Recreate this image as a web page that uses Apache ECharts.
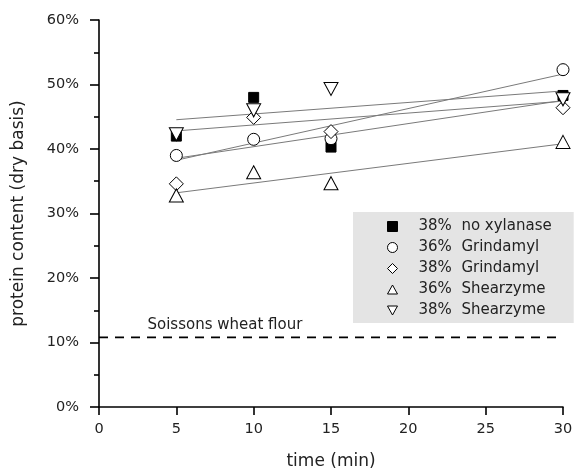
<!DOCTYPE html>
<html>
<head>
<meta charset="utf-8">
<script src="https://cdn.jsdelivr.net/npm/echarts@6/dist/echarts.min.js"></script>
<style>html,body{margin:0;padding:0;background:#fff}#c{width:576px;height:475px}</style>
</head>
<body>
<div id="c"></div>
<script>
// ---- data ----
var times = [5, 10, 15, 30];
var seriesNames = ['38%  no xylanase', '36%  Grindamyl', '38%  Grindamyl', '36%  Shearzyme', '38%  Shearzyme'];
var noXylanase38 = [42.0, 48.0, 40.3, 48.3];
var grindamyl36 = [39.0, 41.5, 41.6, 52.3];
var grindamyl38 = [34.6, 44.9, 42.7, 46.4];
var shearzyme36 = [32.8, 36.4, 34.7, 41.1];
var shearzyme38 = [42.3, 46.0, 49.3, 47.7];
var flourBaseline = 10.8;
var flourLabel = 'Soissons wheat flour';
var xTicks = [0, 5, 10, 15, 20, 25, 30];
var yTicks = [0, 10, 20, 30, 40, 50, 60];

var allValues = [noXylanase38, grindamyl36, grindamyl38, shearzyme36, shearzyme38];

// ---- styles ----
var FONT = 'DejaVu Sans';
var downTri = 'path://M0,0 L10,0 L5,9 Z';
var upTri = 'path://M5,0 L10,9 L0,9 Z';
var markerStyles = [
  {symbol: 'rect', size: 10, fill: '#000'},
  {symbol: 'circle', size: 12, fill: '#fff'},
  {symbol: 'diamond', size: [14, 14], fill: '#fff'},
  {symbol: upTri, size: [14, 13], fill: '#fff'},
  {symbol: downTri, size: [14, 13], fill: '#fff'}
];

function linFit(xs, ys) {
  var n = xs.length, mx = 0, my = 0;
  for (var i = 0; i < n; i++) { mx += xs[i]; my += ys[i]; }
  mx /= n; my /= n;
  var sxy = 0, sxx = 0;
  for (var j = 0; j < n; j++) { sxy += (xs[j] - mx) * (ys[j] - my); sxx += (xs[j] - mx) * (xs[j] - mx); }
  var b = sxy / sxx, a = my - b * mx;
  var x0 = xs[0], x1 = xs[n - 1];
  return [[x0, a + b * x0], [x1, a + b * x1]];
}

var series = [];
allValues.forEach(function (vals, k) {
  series.push({
    type: 'line', name: 'fit' + k, data: linFit(times, vals),
    symbol: 'none', silent: true, z: 1,
    lineStyle: {color: '#7a7a7a', width: 1}
  });
});
allValues.forEach(function (vals, k) {
  var m = markerStyles[k];
  series.push({
    type: 'scatter', name: seriesNames[k],
    data: times.map(function (t, i) { return [t, vals[i]]; }),
    symbol: m.symbol, symbolSize: m.size, z: 3,
    itemStyle: {color: m.fill, borderColor: '#000', borderWidth: 1, opacity: 1}
  });
});
// baseline
series.push({
  type: 'line', name: 'baseline', data: [[xTicks[0], flourBaseline], [xTicks[xTicks.length - 1], flourBaseline]],
  symbol: 'none', silent: true, z: 2,
  lineStyle: {color: '#000', width: 1.6, type: [9, 7]},
  markPoint: {
    symbol: 'circle', symbolSize: 1, itemStyle: {color: 'rgba(0,0,0,0)'},
    silent: true,
    data: [{coord: [xTicks[0], flourBaseline]}],
    label: {
      show: true, formatter: flourLabel, position: 'right', offset: [43, -12],
      fontFamily: FONT, fontSize: 15, color: '#222'
    }
  }
});

var chart = echarts.init(document.getElementById('c'), null, {renderer: 'canvas'});
chart.setOption({
  animation: false,
  backgroundColor: '#fff',
  grid: {left: 99, right: 13, top: 20, bottom: 64, containLabel: false},
  legend: {
    data: seriesNames.map(function (n, k) {
      var m = markerStyles[k];
      return {name: n, icon: m.symbol, itemStyle: {color: m.fill, borderColor: '#000', borderWidth: 1}};
    }),
    orient: 'vertical', left: 353, top: 212,
    backgroundColor: '#e4e4e4', borderWidth: 0, borderRadius: 0,
    padding: [7, 22, 5, 34],
    itemWidth: 10, itemHeight: 10, itemGap: 6,
    textStyle: {fontFamily: FONT, fontSize: 15, color: '#222', padding: [0, 0, 0, 16], lineHeight: 14}
  },
  xAxis: {
    type: 'value', min: xTicks[0], max: xTicks[xTicks.length - 1], interval: 5,
    name: 'time (min)', nameLocation: 'middle', nameGap: 46,
    nameTextStyle: {fontFamily: FONT, fontSize: 17, color: '#222'},
    axisLine: {show: true, onZero: false, lineStyle: {color: '#000', width: 1.6}},
    axisTick: {show: true, inside: false, length: 8, lineStyle: {color: '#000', width: 1.6}},
    axisLabel: {fontFamily: FONT, fontSize: 14.5, color: '#222', margin: 15},
    splitLine: {show: false}
  },
  yAxis: {
    type: 'value', min: yTicks[0], max: yTicks[yTicks.length - 1], interval: 10,
    name: 'protein content (dry basis)', nameLocation: 'middle', nameGap: 72,
    nameTextStyle: {fontFamily: FONT, fontSize: 17, color: '#222'},
    axisLine: {show: true, onZero: false, lineStyle: {color: '#000', width: 1.6}},
    axisTick: {show: true, inside: false, length: 9, lineStyle: {color: '#000', width: 1.6}},
    minorTick: {show: true, splitNumber: 2, length: 5, lineStyle: {color: '#000', width: 1.6}},
    axisLabel: {fontFamily: FONT, fontSize: 14.5, color: '#222', margin: 20, formatter: '{value}%'},
    splitLine: {show: false}, minorSplitLine: {show: false}
  },
  series: series
});
</script>
</body>
</html>
